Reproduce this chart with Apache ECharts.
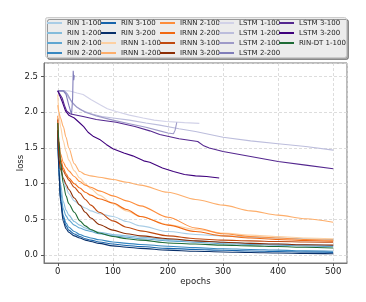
<!DOCTYPE html>
<html><head><meta charset="utf-8">
<script src="https://cdn.jsdelivr.net/npm/echarts@6/dist/echarts.min.js"></script>
<style>html,body{margin:0;padding:0;background:#fff}#c{width:366px;height:302px}</style>
</head><body><div id="c"></div>
<script>
// ---- data ----
const EPOCHS = [0,2,5,10,15,20,30,40,50,60,75,100,125,150,200,250,300,350,400,450,500];

const RIN_1_100 = [1.75,1.5,1.25,1.05,0.95,0.86,0.76,0.70,0.66,0.62,0.58,0.54,0.47,0.41,0.33,0.29,0.27,0.25,0.24,0.23,0.22];
const RIN_1_200 = [1.8,1.35,1.0,0.75,0.63,0.56,0.47,0.42,0.38,0.35,0.32,0.29,0.27,0.25,0.22,0.20,0.18,0.165,0.155,0.145,0.135];
const RIN_2_100 = [1.75,1.25,0.9,0.65,0.55,0.49,0.42,0.38,0.35,0.33,0.30,0.27,0.25,0.23,0.20,0.18,0.16,0.15,0.14,0.13,0.12];
const RIN_2_200 = [1.7,1.15,0.8,0.55,0.45,0.39,0.33,0.29,0.26,0.24,0.215,0.185,0.165,0.15,0.125,0.105,0.09,0.08,0.07,0.06,0.055];
const RIN_3_100 = [1.75,1.18,0.78,0.52,0.41,0.35,0.295,0.26,0.23,0.21,0.185,0.155,0.135,0.12,0.095,0.08,0.068,0.058,0.05,0.043,0.038];
const RIN_3_200 = [1.75,1.2,0.75,0.47,0.37,0.32,0.27,0.24,0.21,0.19,0.165,0.13,0.11,0.095,0.07,0.055,0.045,0.037,0.03,0.025,0.02];

const IRNN_1_100 = [2.25,2.0,1.8,1.6,1.45,1.33,1.18,1.08,1.0,0.93,0.84,0.72,0.62,0.54,0.43,0.36,0.31,0.28,0.26,0.24,0.23];
const IRNN_1_200 = [2.1,2.0,1.92,1.8,1.65,1.5,1.28,1.17,1.13,1.11,1.09,1.06,1.02,0.98,0.88,0.78,0.70,0.62,0.56,0.51,0.46];
const IRNN_2_100 = [1.95,1.6,1.42,1.3,1.23,1.18,1.1,1.03,0.98,0.95,0.9,0.83,0.76,0.69,0.53,0.38,0.3,0.26,0.24,0.22,0.21];
const IRNN_2_200 = [1.85,1.5,1.35,1.22,1.14,1.08,1.0,0.94,0.88,0.84,0.79,0.73,0.64,0.54,0.42,0.33,0.27,0.24,0.22,0.205,0.195];
const IRNN_3_100 = [1.9,1.5,1.3,1.18,1.11,1.05,0.95,0.87,0.78,0.7,0.6,0.48,0.39,0.34,0.27,0.23,0.21,0.2,0.19,0.185,0.18];
const IRNN_3_200 = [1.75,1.35,1.2,1.08,0.99,0.92,0.8,0.7,0.6,0.52,0.43,0.35,0.3,0.27,0.23,0.2,0.18,0.165,0.155,0.145,0.14];

const RIN_DT_1_100 = [1.85,1.6,1.3,1.0,0.83,0.72,0.6,0.48,0.41,0.36,0.31,0.26,0.23,0.21,0.17,0.155,0.14,0.13,0.12,0.11,0.10];

const LSTM_1_100_EP = [0,20,25,35,46,60,76,90,106,130,155,175,197,230,257];
const LSTM_1_100 = [2.3,2.3,2.29,2.27,2.25,2.18,2.11,2.05,2.01,1.96,1.92,1.89,1.87,1.855,1.845];
const LSTM_1_200_EP = [0,10,15,20,30,40,60,80,100,130,160,185,220,250,300,350,400,450,500];
const LSTM_1_200 = [2.3,2.3,2.27,2.2,2.1,2.04,1.98,1.94,1.92,1.89,1.85,1.82,1.77,1.73,1.65,1.6,1.56,1.52,1.47];
const LSTM_2_100_EP = [0,12,18,25,35,50,70,100,130,160,185,200,210,213,216];
const LSTM_2_100 = [2.3,2.3,2.25,2.15,2.07,2.0,1.95,1.89,1.84,1.79,1.74,1.71,1.70,1.75,1.86];
const LSTM_2_200_EP = [0,10,15,20,25,27,28,29,30];
const LSTM_2_200 = [2.3,2.3,2.25,2.1,1.97,2.2,2.58,2.45,2.52];
const LSTM_3_100_EP = [0,3,8,12,16,22,28,46,70,106,140,167,185,220,254,265,275,300,350,400,450,500];
const LSTM_3_100 = [2.3,2.3,2.2,2.1,2.02,1.98,1.97,1.94,1.9,1.86,1.8,1.74,1.69,1.63,1.59,1.53,1.5,1.45,1.38,1.31,1.26,1.21];
const LSTM_3_200_EP = [0,3,8,14,20,30,40,47,55,65,76,88,100,120,136,156,167,190,210,230,250,270,293];
const LSTM_3_200 = [2.3,2.3,2.15,2.02,1.96,1.92,1.85,1.8,1.72,1.66,1.62,1.55,1.49,1.43,1.39,1.32,1.30,1.22,1.17,1.13,1.11,1.10,1.08];

// ---- series setup ----
const SERIES = [
  ['RIN 1-100', EPOCHS, RIN_1_100, '#a9cde6', true],
  ['RIN 1-200', EPOCHS, RIN_1_200, '#84bcdb', true],
  ['RIN 2-100', EPOCHS, RIN_2_100, '#5fa6d1', true],
  ['RIN 2-200', EPOCHS, RIN_2_200, '#3787c0', true],
  ['RIN 3-100', EPOCHS, RIN_3_100, '#1764ab', true],
  ['RIN 3-200', EPOCHS, RIN_3_200, '#08306b', true],
  ['IRNN 1-100', EPOCHS, IRNN_1_100, '#fdd0a2', true],
  ['IRNN 1-200', EPOCHS, IRNN_1_200, '#fdae6b', true],
  ['IRNN 2-100', EPOCHS, IRNN_2_100, '#fd8d3c', true],
  ['IRNN 2-200', EPOCHS, IRNN_2_200, '#f16913', true],
  ['IRNN 3-100', EPOCHS, IRNN_3_100, '#c04a10', true],
  ['IRNN 3-200', EPOCHS, IRNN_3_200, '#8c2d04', true],
  ['LSTM 1-100', LSTM_1_100_EP, LSTM_1_100, '#d2d2e8', false],
  ['LSTM 1-200', LSTM_1_200_EP, LSTM_1_200, '#bcbddc', false],
  ['LSTM 2-100', LSTM_2_100_EP, LSTM_2_100, '#9e9ac8', false],
  ['LSTM 2-200', LSTM_2_200_EP, LSTM_2_200, '#807dba', false],
  ['LSTM 3-100', LSTM_3_100_EP, LSTM_3_100, '#54278f', false],
  ['LSTM 3-200', LSTM_3_200_EP, LSTM_3_200, '#3f007d', false],
  ['RIN-DT 1-100', EPOCHS, RIN_DT_1_100, '#1d6b35', true]
];

const LEGEND_COLS = [
  ['RIN 1-100','RIN 1-200','RIN 2-100','RIN 2-200'],
  ['RIN 3-100','RIN 3-200','IRNN 1-100','IRNN 1-200'],
  ['IRNN 2-100','IRNN 2-200','IRNN 3-100','IRNN 3-200'],
  ['LSTM 1-100','LSTM 1-200','LSTM 2-100','LSTM 2-200'],
  ['LSTM 3-100','LSTM 3-200','RIN-DT 1-100']
];
const LEGEND_X = [47, 101, 160, 219, 279];

const FONT = 'DejaVu Sans';
const chart = echarts.init(document.getElementById('c'), null, {renderer: 'canvas'});

const series = SERIES.map(([name, xs, ys, color, sm]) => ({
  name, type: 'line',
  data: xs.map((x, i) => [x, ys[i]]),
  showSymbol: false, symbol: 'none',
  smooth: sm ? 0.3 : false, smoothMonotone: sm ? 'x' : undefined,
  lineStyle: {color, width: 1.1},
  itemStyle: {color},
  emphasis: {disabled: true},
  animation: false
}));

const legends = LEGEND_COLS.map((col, i) => ({
  left: LEGEND_X[i], top: 18, orient: 'vertical', padding: 0,
  icon: 'rect', itemWidth: 15, itemHeight: 2, itemGap: 0,
  selectedMode: false,
  textStyle: {fontFamily: FONT, fontSize: 7, lineHeight: 10, color: '#222'},
  data: col
}));

chart.setOption({
  animation: false,
  backgroundColor: '#fff',
  grid: {left: 44, right: 19, top: 63, bottom: 39, show: true, borderColor: '#777', borderWidth: 1,
    backgroundColor: '#fff', containLabel: false, outerBoundsMode: 'none'},
  graphic: [{
    type: 'rect', z: 1,
    shape: {x: 45.5, y: 17.5, width: 301, height: 40, r: 2},
    style: {fill: '#ececec', stroke: '#cccccc', lineWidth: 1,
      shadowColor: 'rgba(0,0,0,0.35)', shadowOffsetX: 2, shadowOffsetY: 2, shadowBlur: 0}
  }],
  legend: legends,
  xAxis: {
    type: 'value', min: -25, max: 525, splitNumber: 5,
    name: 'epochs', nameLocation: 'middle', nameGap: 14, nameMoveOverlap: false,
    nameTextStyle: {fontFamily: FONT, fontSize: 8.5, color: '#222'},
    axisLine: {show: true, onZero: false, lineStyle: {color: '#777'}},
    axisTick: {show: true, length: 3, lineStyle: {color: '#555'}},
    axisLabel: {fontFamily: FONT, fontSize: 8.5, color: '#222', margin: 4, showMinLabel: false, showMaxLabel: false},
    splitLine: {show: true, lineStyle: {color: '#d4d4d4', type: [3, 2], width: 0.8}}
  },
  yAxis: {
    type: 'value', min: -0.11, max: 2.69, splitNumber: 5,
    name: 'loss', nameLocation: 'middle', nameGap: 19, nameMoveOverlap: false,
    nameTextStyle: {fontFamily: FONT, fontSize: 8.5, color: '#222'},
    axisLine: {show: true, onZero: false, lineStyle: {color: '#777'}},
    axisTick: {show: true, length: 3, lineStyle: {color: '#555'}},
    axisLabel: {fontFamily: FONT, fontSize: 8.5, color: '#222', margin: 6, showMinLabel: false, showMaxLabel: false,
      formatter: v => v.toFixed(1)},
    splitLine: {show: true, lineStyle: {color: '#d4d4d4', type: [3, 2], width: 0.8}}
  },
  series
});
</script></body></html>
